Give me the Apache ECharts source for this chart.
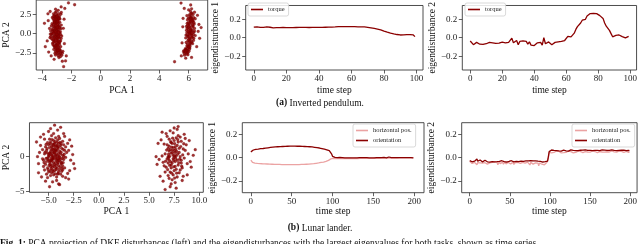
<!DOCTYPE html>
<html><head><meta charset="utf-8">
<script src="https://cdn.jsdelivr.net/npm/echarts@6/dist/echarts.min.js"></script>
<style>html,body{margin:0;padding:0;background:#fff}#c{width:640px;height:244px}</style>
</head><body><div id="c"></div>
<script>
// ---------- Data ----------
// (a) Inverted pendulum: PCA projection, two clusters
const ipPcaLeft = [
[-3.05,0.02],[-2.92,0.31],[-3.18,-0.24],[-2.85,-0.45],[-3.27,0.48],[-3.01,0.71],[-2.78,0.12],[-3.35,-0.08],[-3.12,-0.63],[-2.95,-0.88],
[-3.22,0.92],[-2.88,1.05],[-3.08,1.27],[-2.71,0.66],[-3.41,0.35],[-3.15,-1.02],[-2.83,-1.21],[-3.30,-0.77],[-2.98,1.44],[-3.24,1.18],
[-2.66,-0.31],[-3.46,-0.52],[-3.02,-1.38],[-2.90,-0.05],[-3.10,0.55],[-2.80,0.88],[-3.37,1.02],[-2.96,-0.66],[-3.19,0.17],[-2.74,-0.92],
[-3.06,-0.38],[-3.28,-1.25],[-2.87,1.33],[-3.13,0.83],[-2.93,-1.10],[-3.49,0.68],[-2.69,1.12],[-3.21,-0.91],[-3.00,0.42],[-2.84,-0.18],
[-3.33,0.05],[-3.09,-0.15],[-2.76,0.28],[-3.16,1.38],[-2.91,0.97],[-3.40,-0.34],[-3.04,-1.49],[-2.81,-1.40],[-3.25,0.30],[-2.97,-0.29],
[-3.05,1.62],[-2.89,1.85],[-3.18,1.74],[-2.95,2.05],[-3.12,2.21],[-2.82,2.30],[-3.25,1.95],[-3.00,2.48],[-2.87,2.62],[-3.10,2.75],
[-2.93,1.55],[-3.30,2.12],[-2.78,1.92],[-3.03,2.88],[-2.72,2.55],[-3.15,2.40],[-2.96,1.78],[-3.22,2.60],[-2.84,2.10],[-3.07,1.98],
[-2.69,2.78],[-2.99,2.25],[-3.17,1.58],[-2.90,3.05],[-3.08,3.20],
[-3.02,-1.63],[-2.86,-1.82],[-3.15,-1.75],[-2.93,-2.00],[-2.77,-2.15],[-3.08,-2.28],[-2.88,-2.45],[-2.70,-2.38],[-3.20,-2.05],[-2.97,-2.62],
[-2.80,-2.70],[-2.62,-2.55],[-3.05,-1.92],[-2.91,-2.88],[-2.73,-1.70],[-3.12,-2.55],[-2.84,-2.25],[-2.66,-2.82],[-3.00,-2.15],[-2.94,-1.58],
[-2.75,-3.00],[-3.09,-2.78],[-2.58,-2.30],[-2.85,-3.12],[-3.18,-1.62],
[-3.02,0.18],[-2.94,-0.12],[-3.14,0.38],[-2.86,0.52],[-3.24,-0.42],[-2.99,-0.55],[-3.11,0.95],[-2.89,-0.98],[-3.19,-0.78],[-2.82,0.75],
[-3.07,1.08],[-2.96,1.22],[-3.29,0.62],[-2.73,-0.12],[-3.36,-0.62],[-3.03,-1.15],[-2.91,-1.31],[-3.17,1.52],[-2.79,1.48],[-3.26,-1.45],
[-3.01,1.72],[-2.85,2.00],[-3.13,2.08],[-2.97,2.35],[-3.21,2.30],[-2.90,-1.66],[-3.06,-1.88],[-2.80,-2.05],[-2.98,-2.40],[-2.76,-2.60],
[-3.09,0.27],[-2.88,0.20],[-3.23,0.05],[-2.95,0.66],[-3.05,-0.82],[-2.83,-0.58],[-3.32,1.30],[-2.70,-0.62],[-3.44,-0.05],[-2.92,1.65],
[-3.00,-0.10],[-3.15,-0.45],[-2.87,-0.32],[-3.08,0.62],[-2.97,0.84],[-3.20,-1.15],[-2.78,-1.05],[-3.04,1.90],[-2.92,-2.18],[-3.12,-1.55],
[-2.20,4.02],[-1.78,3.78],[-3.84,1.36],[-3.78,-1.70],[-2.53,-4.30],[-3.18,-3.35],[-2.45,3.30],[-3.60,2.60],[-2.40,-3.55],[-3.65,-0.95],
[-2.50,1.90],[-3.55,-2.40],[-2.55,0.70],[-3.58,1.70],[-2.48,-1.30],[-2.70,3.50],[-3.38,-2.90],[-2.62,-3.60],[-3.45,2.90],[-2.35,-2.90]
];
const ipPcaRight = [
[6.05,0.05],[6.18,0.32],[5.92,-0.21],[6.27,-0.48],[5.98,0.61],[6.12,-0.75],[6.35,0.18],[5.85,0.44],[6.08,0.92],[6.22,-1.05],
[5.95,-0.92],[6.40,0.70],[6.02,1.18],[6.15,-0.10],[5.80,-0.55],[6.30,1.02],[6.10,-1.30],[5.90,1.35],[6.25,0.50],[6.00,-0.35],
[6.45,-0.25],[5.88,0.12],[6.20,1.40],[6.05,-1.48],[6.33,-0.88],[5.96,0.85],[6.13,0.28],[5.83,-1.15],[6.38,1.25],[6.07,-0.62],
[6.10,1.65],[6.25,1.88],[5.98,2.02],[6.18,2.25],[6.35,2.10],[6.05,2.45],[6.22,2.68],[5.92,1.80],[6.30,2.50],[6.12,2.90],
[6.00,3.10],[6.28,1.60],[6.45,1.95],[6.15,2.05],[5.88,2.35],[6.40,2.80],[6.08,1.92],[6.20,3.25],
[5.95,-1.65],[6.08,-1.88],[5.82,-2.02],[5.98,-1.75],[5.75,-2.25],[5.88,-2.40],[5.70,-2.55],[5.92,-2.18],[5.78,-1.95],[6.02,-2.30],
[5.65,-2.35],[5.85,-2.65],[5.72,-2.80],[6.10,-1.62],[5.80,-2.12],[5.95,-2.75],[5.68,-2.20],[6.05,-2.05],
[6.02,0.20],[6.15,0.55],[5.95,-0.40],[6.22,-0.22],[6.08,-0.95],[5.90,0.70],[6.28,0.90],[6.05,1.30],[6.18,-1.20],[5.92,-1.35],
[6.35,-0.60],[5.85,0.95],[6.10,0.42],[6.25,1.15],[6.00,-0.75],[6.12,1.55],[6.30,1.70],[5.98,1.45],[6.20,2.00],[6.08,2.20],
[6.15,2.60],[6.02,-1.75],[5.90,-1.95],[5.85,-2.25],[5.95,-2.50],[5.78,-2.40],[5.88,-1.60],[6.18,-0.45],[6.40,0.35],[5.82,-0.18],
[6.05,-0.08],[6.24,0.10],[5.97,0.30],[6.32,-0.12],[6.11,0.78],[5.93,1.10],[6.27,-1.30],[6.03,-1.10],[6.36,1.45],[6.14,1.85],
[5.48,4.00],[6.14,3.75],[5.04,-3.66],[5.80,-3.20],[6.70,1.20],[6.75,-0.60],[5.60,0.90],[5.55,-1.20],[6.60,2.40],[6.65,0.30],
[5.62,2.00],[6.55,-1.70],[5.50,-2.90],[6.20,-3.10],[6.85,0.80],[5.70,3.30]
];
// (a) eigendisturbances, torque, time steps 0..99
const ipEig1Torque = [
0.115,0.125,0.118,0.108,0.112,0.104,0.113,0.106,0.117,0.110,0.114,0.105,0.108,0.110,0.109,0.111,0.110,0.109,0.111,0.110,
0.110,0.111,0.109,0.111,0.110,0.112,0.111,0.110,0.112,0.111,0.112,0.111,0.113,0.112,0.111,0.113,0.112,0.113,0.112,0.114,
0.113,0.114,0.113,0.115,0.114,0.116,0.115,0.117,0.116,0.118,0.117,0.119,0.120,0.118,0.121,0.119,0.120,0.118,0.121,0.119,
0.120,0.119,0.121,0.118,0.119,0.117,0.118,0.116,0.117,0.115,0.113,0.111,0.108,0.105,0.101,0.098,0.094,0.090,0.085,0.079,
0.072,0.066,0.060,0.055,0.050,0.045,0.042,0.038,0.035,0.032,0.030,0.034,0.031,0.035,0.033,0.036,0.034,0.038,0.030,0.012
];
const ipEig2Torque = [
-0.035,-0.055,-0.075,-0.060,-0.050,-0.065,-0.070,-0.080,-0.072,-0.078,-0.065,-0.060,-0.050,-0.068,-0.055,-0.045,-0.062,-0.050,-0.058,-0.045,
-0.048,-0.052,-0.055,-0.060,-0.050,-0.065,-0.005,-0.055,-0.070,-0.030,-0.075,-0.040,-0.045,-0.035,-0.050,-0.040,-0.070,-0.045,-0.080,-0.060,
-0.085,-0.065,-0.055,-0.075,-0.050,-0.080,0.000,-0.065,-0.070,-0.045,-0.060,-0.075,-0.055,-0.050,-0.070,-0.045,-0.050,-0.040,-0.055,-0.030,
-0.010,0.015,-0.005,0.010,0.020,0.050,0.090,0.120,0.130,0.160,0.190,0.185,0.200,0.235,0.255,0.262,0.250,0.265,0.255,0.262,
0.245,0.240,0.225,0.210,0.160,0.125,0.120,0.080,0.045,0.010,0.008,0.025,0.035,0.030,0.020,0.012,0.005,-0.002,-0.010,0.015
];
// (b) Lunar lander: PCA projection, two clusters
const llPcaLeft = [
[-4.3,0.1],[-4.6,0.5],[-4.0,-0.3],[-4.8,-0.6],[-3.9,0.8],[-4.4,1.1],[-4.1,-1.0],[-5.0,0.3],[-3.6,0.2],[-4.7,-1.2],
[-4.2,1.5],[-4.5,-0.9],[-3.8,-0.7],[-5.1,-0.2],[-4.9,1.3],[-3.7,1.2],[-4.3,-1.6],[-4.6,1.8],[-4.0,1.9],[-5.2,0.9],
[-3.5,-0.4],[-4.4,-2.0],[-4.8,2.1],[-3.9,-1.8],[-5.3,-1.1],[-4.1,2.4],[-4.7,-2.3],[-3.4,0.9],[-5.4,0.4],[-4.5,0.0],
[-4.2,-0.5],[-4.9,-0.8],[-3.8,1.6],[-4.6,-1.5],[-4.0,0.5],[-5.0,1.7],[-3.6,-1.3],[-4.3,2.7],[-4.8,-2.7],[-4.1,-2.5],
[-5.5,-0.5],[-3.3,-0.1],[-4.4,0.7],[-4.7,0.2],[-3.9,-0.1],[-5.1,-1.6],[-3.7,-2.1],[-4.2,0.9],[-4.5,2.3],[-5.3,1.4],
[-3.5,1.7],[-4.0,-1.3],[-4.8,0.7],[-4.4,-1.1],[-3.8,0.4],[-5.0,-2.2],[-4.6,-0.3],[-4.1,1.3],[-3.4,-1.6],[-5.6,1.0],
[-4.3,-0.8],[-4.9,2.5],[-3.6,2.2],[-4.7,1.5],[-4.0,-2.1],[-5.2,-0.7],[-3.9,2.6],[-4.5,-2.6],[-3.2,0.6],[-5.4,-1.9],
[-4.2,0.3],[-4.6,-1.9],[-3.7,-0.9],[-5.0,0.0],[-4.4,1.9],[-3.5,0.0],[-4.8,-1.4],[-4.1,-0.6],[-5.1,2.0],[-3.8,-2.5],
[-4.3,1.0],[-4.7,-0.5],[-3.3,1.4],[-5.5,-1.4],[-4.0,2.9],[-4.9,0.5],[-3.6,-1.9],[-4.5,1.6],[-5.2,-2.5],[-4.2,-2.9],
[-4.35,0.35],[-4.55,-0.15],[-4.05,0.15],[-4.75,0.95],[-3.95,-0.55],[-4.45,-1.35],[-4.15,1.65],[-4.85,-1.05],[-3.75,0.65],[-4.65,1.25],
[-4.25,-1.85],[-5.05,-0.45],[-3.85,-1.45],[-4.95,0.15],[-4.35,2.15],[-3.65,-0.25],[-4.55,-2.15],[-5.15,1.15],[-4.05,-0.85],[-4.45,0.55],
[-3.55,1.05],[-4.85,1.85],[-4.15,-1.65],[-5.25,-0.25],[-3.95,1.45],[-4.65,-0.65],[-4.25,0.75],[-4.75,-1.75],[-3.85,2.05],[-5.35,0.65],
[-4.45,-0.35],[-4.05,-2.35],[-4.95,-1.25],[-3.75,-1.05],[-4.35,1.45],[-4.85,0.45],[-3.45,0.35],[-5.05,-1.85],[-4.15,2.05],[-4.55,0.85],
[-4.25,-0.15],[-4.65,2.45],[-3.65,-1.65],[-5.15,0.55],[-4.35,-2.45],[-3.95,0.05],[-4.75,-0.25],[-4.45,1.75],[-3.85,-0.35],[-5.45,-0.85],
[-4.15,-0.25],[-4.55,1.05],[-4.05,1.15],[-4.95,-0.55],[-3.55,-0.85],[-4.65,0.15],[-4.25,-1.25],[-5.25,1.75],[-3.75,1.85],[-4.85,-2.05],
[-6.2,2.1],[-2.4,-1.7],[-4.4,4.5],[-4.9,-4.3],[-6.0,-1.0],[-2.7,1.5],[-5.8,2.8],[-3.0,-3.2],[-4.1,3.8],[-5.3,-3.5],
[-2.8,-0.5],[-5.9,0.6],[-3.5,3.3],[-4.6,-3.6],[-2.6,0.3],[-6.0,-2.3],[-3.8,4.2],[-5.5,3.2],[-3.1,-2.4],[-4.0,-3.9],
[-2.9,2.4],[-5.7,-2.9],[-3.3,-3.0],[-5.0,3.6],[-4.8,4.0],[-2.5,-1.0],[-6.1,0.0],[-3.9,-4.0],[-5.6,-0.3],[-3.1,1.9],
[-4.5,3.3],[-5.1,-3.0],[-2.9,-2.0],[-3.4,2.9],[-5.8,1.6],[-4.2,-3.4],[-4.7,3.0],[-3.0,0.9],[-5.4,2.5],[-3.6,-2.8]
];
const llPcaRight = [
[7.4,0.2],[7.0,0.8],[7.8,-0.5],[7.2,-1.2],[7.6,1.4],[6.8,-0.3],[8.0,0.6],[7.3,1.9],[7.7,-1.8],[6.9,1.2],
[8.2,-0.9],[7.5,-0.1],[7.1,-2.2],[7.9,2.1],[6.6,0.4],[8.4,1.1],[7.4,-2.6],[7.0,2.5],[7.8,-2.9],[6.7,-1.5],
[8.1,2.8],[7.2,0.5],[7.6,-0.7],[8.5,-0.2],[6.5,1.8],[7.3,-3.3],[7.9,3.0],[6.9,-2.7],[8.3,-1.6],[7.5,2.3],
[7.1,1.0],[7.7,0.1],[6.8,2.9],[8.0,-2.3],[7.4,3.4],[6.4,-0.8],[8.6,0.9],[7.2,-1.6],[7.8,1.6],[7.0,-0.5],
[8.2,2.2],[6.7,3.3],[7.6,-3.7],[7.3,0.9],[8.8,-1.0],[6.3,0.1],[7.9,-1.2],[7.1,3.7],[7.5,-2.0],[8.4,-2.8],
[6.6,-2.2],[7.7,2.7],[8.1,0.0],[6.9,0.0],[7.4,1.3],[8.7,1.7],[6.2,2.4],[7.2,-3.9],[7.8,3.9],[8.3,-3.4],
[7.0,-3.1],[7.6,0.6],[8.9,0.4],[6.5,-1.3],[7.3,-0.9],[8.0,1.2],[7.1,-4.3],[7.5,4.1],[6.8,1.7],[8.2,-0.5],
[7.35,0.55],[7.65,-0.25],[7.15,-0.75],[7.85,0.35],[7.45,-1.45],[6.95,0.35],[8.05,-0.35],[7.25,1.35],[7.55,1.85],[7.75,-2.35],
[6.85,-1.85],[8.15,1.45],[7.05,-1.25],[7.95,-0.85],[7.35,2.65],[7.55,-3.05],[6.75,0.95],[8.35,0.25],[7.15,2.15],[7.65,1.05],
[7.45,-0.55],[8.25,-1.35],[6.95,-0.15],[7.85,2.45],[7.25,-2.35],[7.05,0.05],[7.75,0.75],[8.45,1.85],[6.65,-0.65],[7.55,0.15],
[9.4,0.2],[5.7,0.0],[9.2,-1.5],[5.9,1.9],[6.1,-2.8],[9.0,2.3],[7.7,-4.5],[6.6,-4.7],[8.5,3.2],[5.8,-1.1],
[9.6,1.0],[6.3,3.5],[8.8,-2.6],[7.9,4.3],[6.0,-0.4],[9.1,-0.7],[7.2,2.0],[7.6,-1.4],[8.6,2.6],[6.4,-3.5],
[7.4,-0.3],[6.9,-0.9],[8.1,-1.9],[7.5,0.9],[7.0,1.5]
];
// (b) eigendisturbance 1, time steps 0..199
const llEig1Horizontal = [
-0.020,-0.032,-0.040,-0.043,-0.045,-0.046,-0.047,-0.048,-0.049,-0.049,-0.050,-0.050,-0.051,-0.051,-0.052,-0.052,-0.053,-0.053,-0.053,-0.054,
-0.054,-0.054,-0.055,-0.055,-0.055,-0.056,-0.056,-0.056,-0.057,-0.057,-0.057,-0.057,-0.058,-0.058,-0.058,-0.058,-0.058,-0.059,-0.059,-0.059,
-0.059,-0.059,-0.059,-0.060,-0.060,-0.060,-0.060,-0.060,-0.060,-0.060,-0.060,-0.060,-0.060,-0.060,-0.060,-0.060,-0.060,-0.059,-0.059,-0.059,
-0.059,-0.059,-0.058,-0.058,-0.058,-0.057,-0.057,-0.057,-0.056,-0.056,-0.055,-0.055,-0.054,-0.054,-0.053,-0.052,-0.052,-0.051,-0.050,-0.049,
-0.048,-0.047,-0.046,-0.045,-0.044,-0.043,-0.041,-0.040,-0.038,-0.037,-0.035,-0.033,-0.031,-0.029,-0.026,-0.023,-0.020,-0.016,-0.010,-0.005,
-0.004,-0.006,-0.007,-0.006,-0.008,-0.007,-0.006,-0.008,-0.007,-0.006,-0.007,-0.008,-0.006,-0.007,-0.005,-0.007,-0.006,-0.008,-0.006,-0.007,
-0.006,-0.007,-0.005,-0.007,-0.006,-0.008,-0.006,-0.005,-0.007,-0.006,-0.005,-0.007,-0.006,-0.004,-0.006,-0.005,-0.007,-0.005,-0.006,-0.004,
-0.005,-0.006,-0.004,-0.006,-0.005,-0.004,-0.006,-0.005,-0.003,-0.005,-0.004,-0.006,-0.004,-0.005,-0.003,-0.005,-0.004,-0.003,-0.005,-0.004,
-0.003,-0.004,-0.005,-0.003,-0.004,-0.002,-0.004,-0.003,-0.002,-0.004,-0.003,-0.002,-0.004,-0.003,-0.001,-0.003,-0.002,-0.004,-0.002,-0.003,
-0.002,-0.003,-0.001,-0.003,-0.002,-0.001,-0.003,-0.002,-0.001,-0.002,-0.003,-0.001,-0.002,0.000,-0.002,-0.001,-0.002,0.000,-0.001,-0.002
];
const llEig1Orientation = [
0.050,0.056,0.062,0.066,0.069,0.071,0.072,0.073,0.074,0.074,0.075,0.076,0.077,0.077,0.078,0.079,0.080,0.081,0.082,0.083,
0.084,0.085,0.086,0.087,0.088,0.089,0.090,0.090,0.091,0.092,0.092,0.093,0.093,0.094,0.094,0.095,0.095,0.096,0.096,0.096,
0.097,0.097,0.097,0.098,0.098,0.098,0.098,0.098,0.099,0.099,0.099,0.099,0.099,0.099,0.099,0.099,0.098,0.098,0.098,0.098,
0.098,0.098,0.097,0.097,0.097,0.097,0.096,0.096,0.096,0.095,0.095,0.094,0.094,0.093,0.092,0.092,0.091,0.090,0.089,0.088,
0.087,0.086,0.085,0.084,0.083,0.081,0.080,0.078,0.077,0.075,0.073,0.071,0.069,0.067,0.065,0.062,0.060,0.057,0.050,0.030,
0.012,0.006,0.004,0.003,0.002,0.003,0.001,0.002,0.000,0.002,0.001,-0.001,0.001,0.000,0.002,-0.001,0.000,0.001,-0.002,0.000,
0.001,-0.001,0.002,0.000,-0.002,0.001,0.000,-0.001,0.002,0.000,-0.001,0.001,-0.002,0.000,0.001,-0.001,0.000,0.002,-0.001,0.000,
-0.002,0.001,0.000,-0.001,0.001,-0.002,0.000,0.001,-0.001,0.000,0.002,-0.001,0.000,-0.002,0.001,0.000,-0.001,0.001,-0.002,0.000,
0.001,-0.001,0.000,0.002,-0.001,0.000,-0.002,0.001,0.003,0.006,0.002,-0.001,0.000,0.001,-0.002,0.000,0.001,-0.001,0.000,0.002,
-0.001,0.000,0.001,-0.002,0.000,0.001,-0.001,0.000,-0.002,0.001,0.000,-0.001,0.001,0.000,-0.002,0.000,0.001,-0.001,0.000,-0.001
];
// (b) eigendisturbance 2, time steps 0..199
const llEig2Horizontal = [
-0.030,-0.045,-0.038,-0.050,-0.035,-0.055,-0.040,-0.048,-0.033,-0.060,-0.042,-0.036,-0.052,-0.044,-0.058,-0.039,-0.047,-0.035,-0.062,-0.043,
-0.050,-0.037,-0.055,-0.041,-0.066,-0.045,-0.038,-0.053,-0.040,-0.048,-0.057,-0.036,-0.044,-0.051,-0.039,-0.060,-0.046,-0.034,-0.052,-0.043,
-0.049,-0.038,-0.056,-0.042,-0.035,-0.053,-0.045,-0.061,-0.040,-0.048,-0.036,-0.054,-0.043,-0.050,-0.038,-0.058,-0.044,-0.039,-0.052,-0.046,
-0.041,-0.055,-0.037,-0.049,-0.044,-0.060,-0.040,-0.052,-0.036,-0.047,-0.056,-0.042,-0.038,-0.053,-0.045,-0.062,-0.040,-0.048,-0.043,-0.055,
-0.039,-0.050,-0.044,-0.058,-0.041,-0.047,-0.070,-0.045,-0.052,-0.040,-0.056,-0.043,-0.049,-0.061,-0.045,-0.050,-0.042,-0.038,0.000,0.045,
0.055,0.048,0.042,0.058,0.050,0.045,0.053,0.040,0.057,0.049,0.044,0.055,0.047,0.052,0.041,0.056,0.048,0.043,0.054,0.050,
0.046,0.053,0.040,0.057,0.049,0.044,0.052,0.047,0.055,0.042,0.050,0.058,0.045,0.051,0.043,0.056,0.048,0.041,0.053,0.047,
0.050,0.044,0.057,0.046,0.052,0.040,0.055,0.049,0.043,0.054,0.047,0.051,0.042,0.058,0.048,0.045,0.053,0.046,0.050,0.044,
0.055,0.047,0.052,0.043,0.057,0.049,0.045,0.060,0.048,0.053,0.046,0.051,0.044,0.056,0.049,0.052,0.045,0.058,0.047,0.053,
0.050,0.044,0.055,0.048,0.052,0.046,0.057,0.049,0.043,0.054,0.048,0.051,0.045,0.056,0.049,0.053,0.047,0.050,0.045,0.052
];
const llEig2Orientation = [
-0.025,-0.030,-0.028,-0.035,-0.032,-0.026,-0.030,-0.038,-0.022,-0.012,-0.030,-0.034,-0.028,-0.020,-0.033,-0.027,-0.036,-0.025,-0.030,-0.022,
-0.031,-0.026,-0.035,-0.024,-0.029,-0.038,-0.027,-0.021,-0.033,-0.030,-0.025,-0.036,-0.028,-0.024,-0.034,-0.029,-0.023,-0.031,-0.027,-0.035,
-0.026,-0.030,-0.022,-0.034,-0.029,-0.025,-0.037,-0.028,-0.024,-0.032,-0.027,-0.033,-0.026,-0.021,-0.030,-0.035,-0.028,-0.024,-0.031,-0.027,
-0.029,-0.034,-0.026,-0.022,-0.030,-0.036,-0.027,-0.031,-0.025,-0.033,-0.028,-0.024,-0.032,-0.027,-0.035,-0.029,-0.026,-0.031,-0.034,-0.028,
-0.030,-0.035,-0.027,-0.032,-0.036,-0.030,-0.034,-0.038,-0.031,-0.035,-0.033,-0.037,-0.032,-0.036,-0.034,-0.038,-0.035,-0.030,0.010,0.052,
0.062,0.058,0.066,0.060,0.055,0.063,0.059,0.067,0.061,0.056,0.064,0.058,0.062,0.069,0.057,0.063,0.060,0.065,0.058,0.062,
0.059,0.066,0.061,0.057,0.064,0.060,0.067,0.062,0.056,0.063,0.059,0.065,0.061,0.058,0.066,0.060,0.063,0.057,0.064,0.061,
0.058,0.065,0.062,0.059,0.067,0.061,0.056,0.063,0.060,0.066,0.062,0.058,0.064,0.061,0.068,0.059,0.063,0.060,0.065,0.062,
0.059,0.066,0.061,0.064,0.058,0.067,0.062,0.060,0.065,0.061,0.070,0.063,0.059,0.066,0.062,0.064,0.060,0.067,0.061,0.065,
0.062,0.058,0.066,0.061,0.064,0.059,0.063,0.067,0.060,0.065,0.062,0.058,0.064,0.061,0.066,0.060,0.063,0.059,0.062,0.060
];
// tick labels
const ipPcaXTicks = [-4,-2,0,2,4,6];
const ipPcaYTicks = [-2.5,0,2.5];
const ipTimeTicks = [0,20,40,60,80,100];
const ipEigTicks = [-0.2,0,0.2];
const llPcaXTicks = [-5,-2.5,0,2.5,5,7.5,10];
const llPcaYTicks = [-5,0];
const llTimeTicks = [0,50,100,150,200];
const llEigTicks = [-0.2,0,0.2];

// ---------- Chart ----------
const FONT = 'Liberation Serif';
const DARK = '#8b0000', LIGHT = '#eba3a3', AXIS = '#3a3a3a';
const chart = echarts.init(document.getElementById('c'), null, {renderer:'canvas'});
const fmt = d => v => (d === null ? String(v) : Number(v).toFixed(d)).replace('-', '\u2212');

const grids = [
  {left:30, top:0, width:177.7, height:70},
  {left:245.7, top:0, width:177.3, height:70},
  {left:462.3, top:0, width:176.7, height:70},
  {left:25.7, top:122.7, width:177.6, height:69.6},
  {left:242.3, top:122.7, width:181.7, height:70},
  {left:461.7, top:122.7, width:177.3, height:70}
].map(g => Object.assign(g, {show:true, borderColor:AXIS, borderWidth:0.9, backgroundColor:'#fff'}));

function axis(i, min, max, ticks, dec, name, gap, isY) {
  return {
    type:'value', gridIndex:i, min:min, max:max, name:name,
    nameLocation:'middle', nameGap:gap,
    nameTextStyle:{fontFamily:FONT, fontSize:9.5, color:'#111'},
    axisLine:{show:false, onZero:false},
    splitLine:{show:false},
    axisTick:{show:true, inside:false, length:3.5, lineStyle:{color:AXIS, width:0.8}, customValues:ticks},
    axisLabel:{show:true, customValues:ticks, formatter:fmt(dec), fontFamily:FONT, fontSize:9, color:'#222', margin: isY ? 5 : 4}
  };
}

const xAxis = [
  axis(0, -4.4, 7.3, ipPcaXTicks, null, 'PCA 1', 15, false),
  axis(1, -4.95, 103.95, ipTimeTicks, null, 'time step', 15, false),
  axis(2, -4.95, 103.95, ipTimeTicks, null, 'time step', 15, false),
  axis(3, -6.9, 10.4, llPcaXTicks, 1, 'PCA 1', 14, false),
  axis(4, -10.5, 212, llTimeTicks, null, 'time step', 14, false),
  axis(5, -10, 208.5, llTimeTicks, null, 'time step', 14, false)
];
const yAxis = [
  axis(0, -4.74, 4.4, ipPcaYTicks, 1, 'PCA 2', 21, true),
  axis(1, -0.35, 0.35, ipEigTicks, 1, 'eigendisturbance 1', 21, true),
  axis(2, -0.35, 0.35, ipEigTicks, 1, 'eigendisturbance 2', 23, true),
  axis(3, -5.09, 4.86, llPcaYTicks, null, 'PCA 2', 17, true),
  axis(4, -0.3, 0.3, llEigTicks, 1, 'eigendisturbance 1', 23, true),
  axis(5, -0.3, 0.3, llEigTicks, 1, 'eigendisturbance 2', 22, true)
];

const idx = arr => arr.map((v, i) => [i, v]);
function scatter(i, data) {
  return {type:'scatter', xAxisIndex:i, yAxisIndex:i, data:data, symbolSize:2.8,
    itemStyle:{color:DARK, borderColor:'#6a0000', borderWidth:0.3}, silent:true};
}
function line(i, name, data, color) {
  return {type:'line', name:name, xAxisIndex:i, yAxisIndex:i, data:idx(data), symbol:'none', showSymbol:false,
    lineStyle:{color:color, width:1.3}, itemStyle:{color:color}, silent:true};
}

const legendBase = {
  orient:'vertical', icon:'rect', itemWidth:12, itemHeight:1.6, itemGap:3,
  padding:[3,4,3,3], backgroundColor:'rgba(255,255,255,0.85)', borderColor:'#cfcfcf', borderWidth:0.8, borderRadius:2,
  textStyle:{fontFamily:FONT, fontSize:6.5, color:'#222'}, selectedMode:false
};

chart.setOption({
  animation:false,
  grid: grids,
  xAxis: xAxis,
  yAxis: yAxis,
  legend: [
    Object.assign({}, legendBase, {data:['torque'], left:248, top:3}),
    Object.assign({}, legendBase, {data:['torque'], left:465, top:3}),
    Object.assign({}, legendBase, {data:['horizontal pos.','orientation'], left:353, top:124}),
    Object.assign({}, legendBase, {data:['horizontal pos.','orientation'], left:572, top:124})
  ],
  series: [
    scatter(0, ipPcaLeft), scatter(0, ipPcaRight),
    line(1, 'torque', ipEig1Torque, DARK),
    line(2, 'torque', ipEig2Torque, DARK),
    scatter(3, llPcaLeft), scatter(3, llPcaRight),
    line(4, 'horizontal pos.', llEig1Horizontal, LIGHT),
    line(4, 'orientation', llEig1Orientation, DARK),
    line(5, 'horizontal pos.', llEig2Horizontal, LIGHT),
    line(5, 'orientation', llEig2Orientation, DARK)
  ],
  graphic: [
    {type:'text', x:320, y:103, style:{text:'{b|(a)} Inverted pendulum.', align:'center', verticalAlign:'middle',
      fontFamily:FONT, fontSize:9.5, fill:'#111', rich:{b:{fontWeight:'bold', fontFamily:FONT, fontSize:9.5, fill:'#111'}}}},
    {type:'text', x:320, y:228, style:{text:'{b|(b)} Lunar lander.', align:'center', verticalAlign:'middle',
      fontFamily:FONT, fontSize:9.5, fill:'#111', rich:{b:{fontWeight:'bold', fontFamily:FONT, fontSize:9.5, fill:'#111'}}}},
    {type:'text', x:0, y:243.5, style:{text:'{b|Fig. 1:} PCA projection of DKF disturbances (left) and the eigendisturbances with the largest eigenvalues for both tasks, shown as time series.',
      verticalAlign:'middle', fontFamily:FONT, fontSize:9.5, fill:'#111', rich:{b:{fontWeight:'bold', fontFamily:FONT, fontSize:9.5, fill:'#111'}}}}
  ]
});
</script></body></html>
